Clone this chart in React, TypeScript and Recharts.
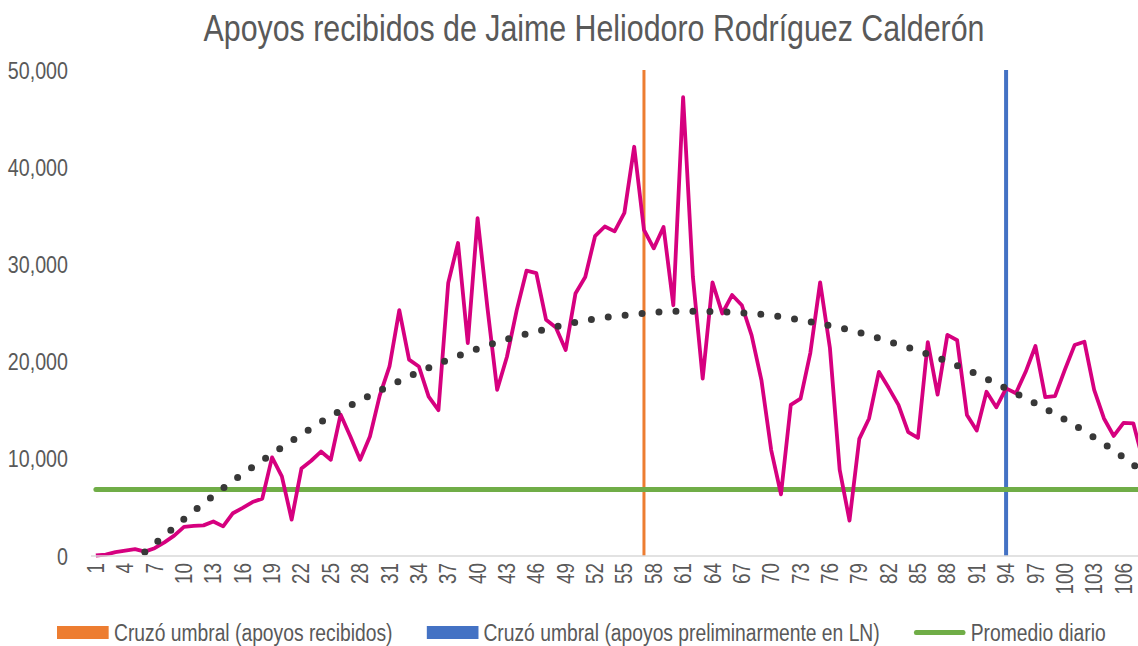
import React from "react";
import { LineChart, Line, XAxis, YAxis, ReferenceLine } from "recharts";

const FONT = '"Liberation Sans", Arial, sans-serif';
const NARROW = 0.82; // imitación de Arial Narrow

// día 1..108
const days = Array.from({ length: 108 }, (_, i) => i + 1);

// apoyos recibidos por día
const apoyos = [
  50, 150, 400, 550, 700, 450, 800, 1400, 2100, 3000,
  3100, 3150, 3550, 3050, 4400, 4950, 5550, 5900, 10150, 8200,
  3750, 9000, 9800, 10750, 9900, 14550, 12300, 9900, 12300, 16500,
  19500, 25300, 20200, 19500, 16400, 15000, 28100, 32200, 21900, 34750,
  25600, 17100, 20500, 25300, 29350, 29100, 24300, 23500, 21200, 27000,
  28700, 32900, 33900, 33400, 35300, 42100, 33550, 31650, 33850, 25800,
  47200, 28700, 18250, 28150, 24950, 26850, 25800, 22700, 18100, 10900,
  6350, 15550, 16200, 20900, 28150, 21400, 8850, 3650, 12050, 14150,
  18950, 17300, 15550, 12750, 12150, 22000, 16600, 22750, 22200, 14500,
  12900, 16900, 15300, 17250, 16750, 18950, 21600, 16350, 16450, 19150,
  21700, 22050, 17100, 14150, 12350, 13700, 13650, 9800,
];

// línea de tendencia (puntos leídos)
const trendDays = [6, 8, 10, 13, 16, 19, 22, 25, 28, 31, 34, 37, 40, 43, 46, 49, 52, 55, 58, 61, 64, 67, 70, 73, 76, 79, 82, 85, 88, 91, 94, 97, 100, 103, 106, 108];
const trendValues = [400, 2100, 3800, 6200, 8450, 10500, 12500, 14400, 16000, 17500, 18930, 20180, 21330, 22300, 23100, 23820, 24400, 24760, 25060, 25190, 25150, 25010, 24760, 24270, 23700, 22990, 22080, 21110, 20010, 18700, 17240, 15700, 14050, 12190, 10150, 8600];

const promedioDiario = 6850;
const cruceRecibidos = 57;
const cruceLN = 94;

const xTicks = [1, 4, 7, 10, 13, 16, 19, 22, 25, 28, 31, 34, 37, 40, 43, 46, 49, 52, 55, 58, 61, 64, 67, 70, 73, 76, 79, 82, 85, 88, 91, 94, 97, 100, 103, 106];
const yTicks = [0, 10000, 20000, 30000, 40000, 50000];

const data = days.map((d, i) => {
  const ti = trendDays.indexOf(d);
  return { day: d, apoyos: apoyos[i], trend: ti >= 0 ? trendValues[ti] : null };
});

const XTick = ({ x, payload }: any) => (
  <text
    transform={`translate(${x}, 563) rotate(-90) scale(${NARROW}, 1)`}
    textAnchor="end"
    dy="0.35em"
    fill="#595959"
    fontSize={23}
    fontFamily={FONT}
  >
    {payload.value}
  </text>
);

const YTick = ({ x, y, payload }: any) => (
  <text
    transform={`translate(${x}, ${y}) scale(${NARROW}, 1)`}
    textAnchor="end"
    dy="0.355em"
    fill="#595959"
    fontSize={24}
    fontFamily={FONT}
  >
    {payload.value.toLocaleString("en-US")}
  </text>
);

const legendItems = [
  { label: "Cruzó umbral (apoyos recibidos)", color: "#ED7D31", kind: "rect" },
  { label: "Cruzó umbral (apoyos preliminarmente en LN)", color: "#4472C4", kind: "rect" },
  { label: "Promedio diario", color: "#70AD47", kind: "line" },
];

export default function App() {
  return (
    <div
      style={{
        position: "absolute",
        left: 0,
        top: 0,
        width: 1138,
        height: 646,
        overflow: "hidden",
        background: "#fff",
        fontFamily: FONT,
      }}
    >
      <div
        style={{
          position: "absolute",
          left: 0,
          top: 10,
          width: 1188,
          textAlign: "center",
          fontSize: 37,
          lineHeight: "37px",
          color: "#595959",
          transform: `scaleX(${NARROW})`,
          transformOrigin: "594px 0",
        }}
      >
        Apoyos recibidos de Jaime Heliodoro Rodríguez Calderón
      </div>

      <LineChart
        width={1148}
        height={646}
        data={data}
        margin={{ top: 70, right: 0, bottom: 0, left: 0 }}
        style={{ position: "absolute", left: 0, top: 0 }}
      >
        <XAxis
          dataKey="day"
          type="number"
          domain={[0.5, 108.5]}
          ticks={xTicks}
          interval={0}
          tick={<XTick />}
          tickLine={false}
          axisLine={{ stroke: "#d9d9d9", strokeWidth: 1.5 }}
          height={90}
        />
        <YAxis
          domain={[0, 50000]}
          ticks={yTicks}
          width={91}
          axisLine={false}
          tickLine={false}
          tickMargin={17}
          tick={<YTick />}
        />
        <ReferenceLine x={cruceRecibidos} stroke="#ED7D31" strokeWidth={3} />
        <ReferenceLine x={cruceLN} stroke="#4472C4" strokeWidth={4} />
        <ReferenceLine
          segment={[
            { x: 1, y: promedioDiario },
            { x: 108, y: promedioDiario },
          ]}
          stroke="#70AD47"
          strokeWidth={5}
          strokeLinecap="round"
        />
        <Line
          dataKey="apoyos"
          stroke="#D6007F"
          strokeWidth={3.8}
          dot={false}
          activeDot={false}
          strokeLinejoin="round"
          isAnimationActive={false}
        />
        <Line
          dataKey="trend"
          type="monotone"
          connectNulls
          stroke="#383838"
          strokeWidth={7}
          strokeDasharray="0 17"
          strokeLinecap="round"
          dot={false}
          activeDot={false}
          isAnimationActive={false}
        />
      </LineChart>

      <div
        style={{
          position: "absolute",
          left: 57,
          top: 619,
          height: 27,
          display: "flex",
          alignItems: "center",
          fontSize: 23.5,
          lineHeight: "24px",
          color: "#595959",
          whiteSpace: "nowrap",
          transform: `scaleX(${NARROW})`,
          transformOrigin: "0 0",
        }}
      >
        {legendItems.map((it, i) => (
          <div
            key={it.label}
            style={{ display: "flex", alignItems: "center", marginLeft: i === 0 ? 0 : 34 / NARROW }}
          >
            <div
              style={{
                width: 52 / NARROW,
                height: it.kind === "rect" ? 13 : 5,
                borderRadius: it.kind === "rect" ? 0 : 3,
                background: it.color,
                marginRight: 5 / NARROW,
              }}
            />
            <span>{it.label}</span>
          </div>
        ))}
      </div>
    </div>
  );
}
